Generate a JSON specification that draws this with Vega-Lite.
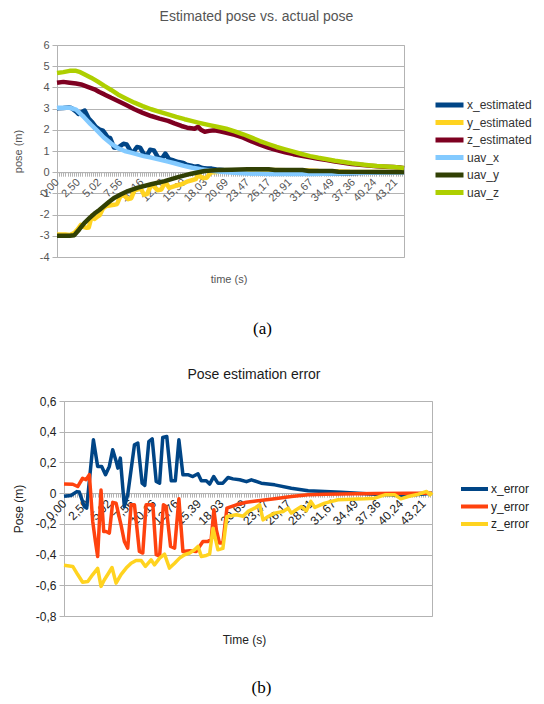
{
  "$schema": "https://vega.github.io/schema/vega-lite/v6.json",
  "padding": {"left": 11, "top": 9, "right": 5, "bottom": 5},
  "config": {
    "font": "Liberation Sans",
    "view": {"stroke": "#b3b3b3", "strokeWidth": 1}
  },
  "spacing": 30,
  "resolve": {"scale": {"color": "independent"}, "legend": {"color": "independent"}},
  "datasets": {
    "a": [
      {"s":"x_estimated","n":0,"v":3.02},{"s":"x_estimated","n":3,"v":3.03},{"s":"x_estimated","n":5.7,"v":3.05},{"s":"x_estimated","n":6.8,"v":3.03},{"s":"x_estimated","n":9.1,"v":2.85},{"s":"x_estimated","n":10.1,"v":2.75},{"s":"x_estimated","n":13.1,"v":2.91},{"s":"x_estimated","n":15,"v":2.53},{"s":"x_estimated","n":16.8,"v":2.34},{"s":"x_estimated","n":18.5,"v":2.12},{"s":"x_estimated","n":20.2,"v":2.01},{"s":"x_estimated","n":21.7,"v":1.96},{"s":"x_estimated","n":23.2,"v":1.76},{"s":"x_estimated","n":24,"v":1.64},{"s":"x_estimated","n":25.1,"v":1.62},{"s":"x_estimated","n":26.9,"v":1.17},{"s":"x_estimated","n":28.4,"v":1.15},{"s":"x_estimated","n":29.9,"v":1.23},{"s":"x_estimated","n":31.4,"v":1.34},{"s":"x_estimated","n":32.9,"v":1.31},{"s":"x_estimated","n":34.8,"v":0.99},{"s":"x_estimated","n":36,"v":0.94},{"s":"x_estimated","n":37.8,"v":1.19},{"s":"x_estimated","n":39.3,"v":1.16},{"s":"x_estimated","n":41.1,"v":0.84},{"s":"x_estimated","n":42.6,"v":0.8},{"s":"x_estimated","n":44,"v":1.06},{"s":"x_estimated","n":45.8,"v":1.03},{"s":"x_estimated","n":47.8,"v":0.69},{"s":"x_estimated","n":49.6,"v":0.65},{"s":"x_estimated","n":51.2,"v":0.88},{"s":"x_estimated","n":53,"v":0.61},{"s":"x_estimated","n":55.2,"v":0.55},{"s":"x_estimated","n":57.4,"v":0.48},{"s":"x_estimated","n":59.7,"v":0.44},{"s":"x_estimated","n":61.2,"v":0.35},{"s":"x_estimated","n":63.4,"v":0.31},{"s":"x_estimated","n":64.9,"v":0.26},{"s":"x_estimated","n":66.7,"v":0.28},{"s":"x_estimated","n":68.6,"v":0.2},{"s":"x_estimated","n":70.8,"v":0.17},{"s":"x_estimated","n":73.1,"v":0.17},{"s":"x_estimated","n":75.3,"v":0.13},{"s":"x_estimated","n":78.3,"v":0.1},{"s":"x_estimated","n":81.3,"v":0.06},{"s":"x_estimated","n":83.5,"v":0.06},{"s":"x_estimated","n":87.9,"v":0.015},{"s":"x_estimated","n":93.9,"v":-0.016},{"s":"x_estimated","n":101.3,"v":-0.05},{"s":"x_estimated","n":108.8,"v":-0.065},{"s":"x_estimated","n":116.2,"v":-0.07},{"s":"x_estimated","n":123.6,"v":-0.07},{"s":"x_estimated","n":131.1,"v":-0.06},{"s":"x_estimated","n":138.5,"v":-0.05},{"s":"x_estimated","n":145.9,"v":-0.03},{"s":"x_estimated","n":150.4,"v":-0.03},{"s":"x_estimated","n":156.4,"v":-0.016},{"s":"x_estimated","n":164,"v":0},
      {"s":"y_estimated","n":0,"v":-2.94},{"s":"y_estimated","n":3.9,"v":-2.94},{"s":"y_estimated","n":6.1,"v":-2.96},{"s":"y_estimated","n":8.3,"v":-2.86},{"s":"y_estimated","n":9.8,"v":-2.69},{"s":"y_estimated","n":11.3,"v":-2.48},{"s":"y_estimated","n":12.8,"v":-2.59},{"s":"y_estimated","n":14,"v":-2.62},{"s":"y_estimated","n":15,"v":-2.61},{"s":"y_estimated","n":16.5,"v":-2.04},{"s":"y_estimated","n":17.7,"v":-2.2},{"s":"y_estimated","n":18.75,"v":-2.12},{"s":"y_estimated","n":20.2,"v":-2.02},{"s":"y_estimated","n":21.7,"v":-1.71},{"s":"y_estimated","n":23.2,"v":-1.6},{"s":"y_estimated","n":25.4,"v":-1.56},{"s":"y_estimated","n":26.9,"v":-1.54},{"s":"y_estimated","n":28.4,"v":-1.5},{"s":"y_estimated","n":29.9,"v":-1.14},{"s":"y_estimated","n":31.4,"v":-1.07},{"s":"y_estimated","n":33.6,"v":-1.27},{"s":"y_estimated","n":35.1,"v":-1.23},{"s":"y_estimated","n":36.6,"v":-0.86},{"s":"y_estimated","n":39.6,"v":-0.77},{"s":"y_estimated","n":41.1,"v":-1.06},{"s":"y_estimated","n":42.6,"v":-1.03},{"s":"y_estimated","n":44.3,"v":-0.65},{"s":"y_estimated","n":45.5,"v":-0.64},{"s":"y_estimated","n":47.5,"v":-0.85},{"s":"y_estimated","n":49.3,"v":-0.82},{"s":"y_estimated","n":51.2,"v":-0.45},{"s":"y_estimated","n":53,"v":-0.74},{"s":"y_estimated","n":56,"v":-0.64},{"s":"y_estimated","n":58.9,"v":-0.57},{"s":"y_estimated","n":61.9,"v":-0.43},{"s":"y_estimated","n":64.1,"v":-0.37},{"s":"y_estimated","n":65.6,"v":-0.33},{"s":"y_estimated","n":66.8,"v":-0.11},{"s":"y_estimated","n":67.9,"v":-0.22},{"s":"y_estimated","n":69.3,"v":-0.28},{"s":"y_estimated","n":70.8,"v":-0.26},{"s":"y_estimated","n":72.6,"v":-0.02},{"s":"y_estimated","n":76.8,"v":0.02},{"s":"y_estimated","n":81.3,"v":0.07},{"s":"y_estimated","n":86.5,"v":0.08},{"s":"y_estimated","n":93.9,"v":0.1},{"s":"y_estimated","n":101.3,"v":0.1},{"s":"y_estimated","n":108.8,"v":0.09},{"s":"y_estimated","n":116.2,"v":0.09},{"s":"y_estimated","n":123.6,"v":0.055},{"s":"y_estimated","n":138.5,"v":0.018},{"s":"y_estimated","n":153.4,"v":0.015},{"s":"y_estimated","n":164,"v":0.01},
      {"s":"z_estimated","n":0,"v":4.22},{"s":"z_estimated","n":3,"v":4.26},{"s":"z_estimated","n":6,"v":4.22},{"s":"z_estimated","n":9,"v":4.18},{"s":"z_estimated","n":11.4,"v":4.14},{"s":"z_estimated","n":14.5,"v":4.03},{"s":"z_estimated","n":17.7,"v":3.91},{"s":"z_estimated","n":20,"v":3.78},{"s":"z_estimated","n":22.4,"v":3.67},{"s":"z_estimated","n":25.6,"v":3.51},{"s":"z_estimated","n":28.8,"v":3.36},{"s":"z_estimated","n":32.7,"v":3.17},{"s":"z_estimated","n":36.6,"v":2.97},{"s":"z_estimated","n":40.5,"v":2.8},{"s":"z_estimated","n":44.5,"v":2.65},{"s":"z_estimated","n":48.5,"v":2.53},{"s":"z_estimated","n":52.5,"v":2.42},{"s":"z_estimated","n":55.5,"v":2.3},{"s":"z_estimated","n":58.8,"v":2.18},{"s":"z_estimated","n":61.5,"v":2.1},{"s":"z_estimated","n":63.5,"v":2.07},{"s":"z_estimated","n":65,"v":2.05},{"s":"z_estimated","n":66.7,"v":2.14},{"s":"z_estimated","n":68,"v":2.0},{"s":"z_estimated","n":69.8,"v":1.91},{"s":"z_estimated","n":72,"v":1.95},{"s":"z_estimated","n":74.5,"v":1.98},{"s":"z_estimated","n":77,"v":1.93},{"s":"z_estimated","n":80.1,"v":1.86},{"s":"z_estimated","n":84,"v":1.76},{"s":"z_estimated","n":88,"v":1.63},{"s":"z_estimated","n":92,"v":1.45},{"s":"z_estimated","n":95.9,"v":1.3},{"s":"z_estimated","n":99.8,"v":1.16},{"s":"z_estimated","n":103.8,"v":1.04},{"s":"z_estimated","n":107.8,"v":0.94},{"s":"z_estimated","n":111.7,"v":0.85},{"s":"z_estimated","n":115.6,"v":0.77},{"s":"z_estimated","n":119.6,"v":0.7},{"s":"z_estimated","n":123.5,"v":0.63},{"s":"z_estimated","n":127.5,"v":0.57},{"s":"z_estimated","n":131.4,"v":0.5},{"s":"z_estimated","n":135.4,"v":0.45},{"s":"z_estimated","n":139.3,"v":0.39},{"s":"z_estimated","n":143.3,"v":0.35},{"s":"z_estimated","n":147.2,"v":0.31},{"s":"z_estimated","n":151.2,"v":0.28},{"s":"z_estimated","n":155,"v":0.26},{"s":"z_estimated","n":159,"v":0.24},{"s":"z_estimated","n":162,"v":0.22},{"s":"z_estimated","n":164,"v":0.19},
      {"s":"uav_x","n":0,"v":3.04},{"s":"uav_x","n":3,"v":3.04},{"s":"uav_x","n":6,"v":3.04},{"s":"uav_x","n":9,"v":2.95},{"s":"uav_x","n":13,"v":2.57},{"s":"uav_x","n":16,"v":2.25},{"s":"uav_x","n":19,"v":1.96},{"s":"uav_x","n":22,"v":1.65},{"s":"uav_x","n":25.6,"v":1.35},{"s":"uav_x","n":29,"v":1.12},{"s":"uav_x","n":32,"v":1.0},{"s":"uav_x","n":35,"v":0.92},{"s":"uav_x","n":38,"v":0.84},{"s":"uav_x","n":41,"v":0.76},{"s":"uav_x","n":44.5,"v":0.69},{"s":"uav_x","n":48.5,"v":0.6},{"s":"uav_x","n":52.5,"v":0.5},{"s":"uav_x","n":56,"v":0.41},{"s":"uav_x","n":60,"v":0.3},{"s":"uav_x","n":64,"v":0.21},{"s":"uav_x","n":68,"v":0.14},{"s":"uav_x","n":72,"v":0.08},{"s":"uav_x","n":76,"v":0.03},{"s":"uav_x","n":82,"v":-0.02},{"s":"uav_x","n":90,"v":-0.06},{"s":"uav_x","n":100,"v":-0.08},{"s":"uav_x","n":110,"v":-0.08},{"s":"uav_x","n":120,"v":-0.08},{"s":"uav_x","n":132,"v":-0.06},{"s":"uav_x","n":142,"v":-0.03},{"s":"uav_x","n":152,"v":-0.01},{"s":"uav_x","n":164,"v":0.0},
      {"s":"uav_y","n":0,"v":-3.0},{"s":"uav_y","n":6,"v":-3.0},{"s":"uav_y","n":8.2,"v":-2.97},{"s":"uav_y","n":10.5,"v":-2.7},{"s":"uav_y","n":12.9,"v":-2.4},{"s":"uav_y","n":15.3,"v":-2.17},{"s":"uav_y","n":17.7,"v":-1.95},{"s":"uav_y","n":20,"v":-1.78},{"s":"uav_y","n":22.4,"v":-1.58},{"s":"uav_y","n":24.8,"v":-1.38},{"s":"uav_y","n":27.2,"v":-1.2},{"s":"uav_y","n":30.3,"v":-1.04},{"s":"uav_y","n":33.5,"v":-0.89},{"s":"uav_y","n":38.2,"v":-0.73},{"s":"uav_y","n":44.5,"v":-0.57},{"s":"uav_y","n":50.9,"v":-0.42},{"s":"uav_y","n":57.2,"v":-0.23},{"s":"uav_y","n":63.5,"v":-0.07},{"s":"uav_y","n":69.8,"v":0.06},{"s":"uav_y","n":76.2,"v":0.1},{"s":"uav_y","n":82.5,"v":0.12},{"s":"uav_y","n":90,"v":0.14},{"s":"uav_y","n":100,"v":0.14},{"s":"uav_y","n":103,"v":0.1},{"s":"uav_y","n":116,"v":0.1},{"s":"uav_y","n":119,"v":0.06},{"s":"uav_y","n":130,"v":0.06},{"s":"uav_y","n":133,"v":0.02},{"s":"uav_y","n":164,"v":0.01},
      {"s":"uav_z","n":0,"v":4.68},{"s":"uav_z","n":3,"v":4.72},{"s":"uav_z","n":6,"v":4.78},{"s":"uav_z","n":9,"v":4.78},{"s":"uav_z","n":11,"v":4.72},{"s":"uav_z","n":12.9,"v":4.62},{"s":"uav_z","n":16.1,"v":4.46},{"s":"uav_z","n":19.3,"v":4.27},{"s":"uav_z","n":22.4,"v":4.07},{"s":"uav_z","n":25.6,"v":3.88},{"s":"uav_z","n":28.8,"v":3.67},{"s":"uav_z","n":32.7,"v":3.47},{"s":"uav_z","n":36.6,"v":3.28},{"s":"uav_z","n":40.5,"v":3.12},{"s":"uav_z","n":44.5,"v":2.97},{"s":"uav_z","n":48.5,"v":2.85},{"s":"uav_z","n":52.5,"v":2.73},{"s":"uav_z","n":56.4,"v":2.61},{"s":"uav_z","n":60.3,"v":2.5},{"s":"uav_z","n":63.5,"v":2.42},{"s":"uav_z","n":66.7,"v":2.34},{"s":"uav_z","n":71.5,"v":2.23},{"s":"uav_z","n":76.2,"v":2.13},{"s":"uav_z","n":80,"v":2.05},{"s":"uav_z","n":84,"v":1.93},{"s":"uav_z","n":88,"v":1.79},{"s":"uav_z","n":92,"v":1.63},{"s":"uav_z","n":95.9,"v":1.47},{"s":"uav_z","n":99.8,"v":1.33},{"s":"uav_z","n":103.8,"v":1.19},{"s":"uav_z","n":107.8,"v":1.08},{"s":"uav_z","n":111.7,"v":0.97},{"s":"uav_z","n":115.6,"v":0.86},{"s":"uav_z","n":119.6,"v":0.76},{"s":"uav_z","n":123.5,"v":0.68},{"s":"uav_z","n":127.5,"v":0.61},{"s":"uav_z","n":131.4,"v":0.54},{"s":"uav_z","n":135.4,"v":0.48},{"s":"uav_z","n":139.3,"v":0.42},{"s":"uav_z","n":143.3,"v":0.37},{"s":"uav_z","n":147.2,"v":0.33},{"s":"uav_z","n":151.2,"v":0.29},{"s":"uav_z","n":155.1,"v":0.27},{"s":"uav_z","n":159.1,"v":0.25},{"s":"uav_z","n":164,"v":0.2}
    ],
    "b": [
      {"s":"x_error","n":0,"v":-0.02},{"s":"x_error","n":3.1,"v":-0.015},{"s":"x_error","n":5.7,"v":0.01},{"s":"x_error","n":6.8,"v":0.007},{"s":"x_error","n":9.1,"v":-0.087},{"s":"x_error","n":10.1,"v":-0.098},{"s":"x_error","n":13.1,"v":0.347},{"s":"x_error","n":15,"v":0.174},{"s":"x_error","n":16.8,"v":0.174},{"s":"x_error","n":18.5,"v":0.12},{"s":"x_error","n":20.2,"v":0.174},{"s":"x_error","n":21.7,"v":0.282},{"s":"x_error","n":23.2,"v":0.21},{"s":"x_error","n":24,"v":0.163},{"s":"x_error","n":25.1,"v":0.228},{"s":"x_error","n":26.9,"v":-0.087},{"s":"x_error","n":28.4,"v":-0.01},{"s":"x_error","n":29.9,"v":0.152},{"s":"x_error","n":31.4,"v":0.315},{"s":"x_error","n":32.9,"v":0.326},{"s":"x_error","n":34.8,"v":0.065},{"s":"x_error","n":36,"v":0.05},{"s":"x_error","n":37.8,"v":0.336},{"s":"x_error","n":39.3,"v":0.354},{"s":"x_error","n":41.1,"v":0.076},{"s":"x_error","n":42.6,"v":0.065},{"s":"x_error","n":44,"v":0.362},{"s":"x_error","n":45.8,"v":0.369},{"s":"x_error","n":47.8,"v":0.08},{"s":"x_error","n":49.6,"v":0.08},{"s":"x_error","n":51.2,"v":0.347},{"s":"x_error","n":53,"v":0.12},{"s":"x_error","n":55.2,"v":0.12},{"s":"x_error","n":57.4,"v":0.108},{"s":"x_error","n":59.7,"v":0.126},{"s":"x_error","n":61.2,"v":0.08},{"s":"x_error","n":63.4,"v":0.08},{"s":"x_error","n":64.9,"v":0.059},{"s":"x_error","n":66.7,"v":0.108},{"s":"x_error","n":68.6,"v":0.065},{"s":"x_error","n":70.8,"v":0.065},{"s":"x_error","n":73.1,"v":0.102},{"s":"x_error","n":75.3,"v":0.093},{"s":"x_error","n":78.3,"v":0.087},{"s":"x_error","n":81.3,"v":0.075},{"s":"x_error","n":83.5,"v":0.087},{"s":"x_error","n":87.9,"v":0.065},{"s":"x_error","n":93.9,"v":0.054},{"s":"x_error","n":101.3,"v":0.032},{"s":"x_error","n":108.8,"v":0.015},{"s":"x_error","n":116.2,"v":0.01},{"s":"x_error","n":123.6,"v":0.006},{"s":"x_error","n":131.1,"v":0},{"s":"x_error","n":138.5,"v":-0.007},{"s":"x_error","n":145.9,"v":-0.011},{"s":"x_error","n":150.4,"v":-0.02},{"s":"x_error","n":156.4,"v":-0.01},{"s":"x_error","n":164,"v":0},
      {"s":"y_error","n":0,"v":0.06},{"s":"y_error","n":3.9,"v":0.058},{"s":"y_error","n":6.1,"v":0.043},{"s":"y_error","n":8.3,"v":0.097},{"s":"y_error","n":9.8,"v":0.087},{"s":"y_error","n":11.3,"v":0.12},{"s":"y_error","n":12.8,"v":-0.184},{"s":"y_error","n":14,"v":-0.315},{"s":"y_error","n":15,"v":-0.412},{"s":"y_error","n":16.5,"v":0.02},{"s":"y_error","n":17.7,"v":-0.25},{"s":"y_error","n":18.75,"v":-0.25},{"s":"y_error","n":20.2,"v":-0.26},{"s":"y_error","n":21.7,"v":-0.06},{"s":"y_error","n":23.2,"v":-0.065},{"s":"y_error","n":25.4,"v":-0.206},{"s":"y_error","n":26.9,"v":-0.315},{"s":"y_error","n":28.4,"v":-0.358},{"s":"y_error","n":29.9,"v":-0.076},{"s":"y_error","n":31.4,"v":-0.076},{"s":"y_error","n":33.6,"v":-0.38},{"s":"y_error","n":35.1,"v":-0.39},{"s":"y_error","n":36.6,"v":-0.076},{"s":"y_error","n":39.6,"v":-0.076},{"s":"y_error","n":41.1,"v":-0.4},{"s":"y_error","n":42.6,"v":-0.41},{"s":"y_error","n":44.3,"v":-0.076},{"s":"y_error","n":45.5,"v":-0.087},{"s":"y_error","n":47.5,"v":-0.347},{"s":"y_error","n":49.3,"v":-0.358},{"s":"y_error","n":51.2,"v":-0.037},{"s":"y_error","n":53,"v":-0.38},{"s":"y_error","n":56,"v":-0.375},{"s":"y_error","n":58.9,"v":-0.38},{"s":"y_error","n":61.9,"v":-0.315},{"s":"y_error","n":64.1,"v":-0.315},{"s":"y_error","n":65.6,"v":-0.3},{"s":"y_error","n":66.8,"v":-0.108},{"s":"y_error","n":67.9,"v":-0.24},{"s":"y_error","n":69.3,"v":-0.325},{"s":"y_error","n":70.8,"v":-0.325},{"s":"y_error","n":72.6,"v":-0.098},{"s":"y_error","n":76.8,"v":-0.076},{"s":"y_error","n":81.3,"v":-0.059},{"s":"y_error","n":86.5,"v":-0.05},{"s":"y_error","n":93.9,"v":-0.037},{"s":"y_error","n":101.3,"v":-0.022},{"s":"y_error","n":108.8,"v":-0.011},{"s":"y_error","n":116.2,"v":-0.007},{"s":"y_error","n":123.6,"v":-0.005},{"s":"y_error","n":138.5,"v":-0.002},{"s":"y_error","n":153.4,"v":0},{"s":"y_error","n":164,"v":0},
      {"s":"z_error","n":0,"v":-0.47},{"s":"z_error","n":3.9,"v":-0.477},{"s":"z_error","n":6.1,"v":-0.53},{"s":"z_error","n":8.3,"v":-0.58},{"s":"z_error","n":10.6,"v":-0.575},{"s":"z_error","n":12.8,"v":-0.53},{"s":"z_error","n":15,"v":-0.49},{"s":"z_error","n":16.5,"v":-0.607},{"s":"z_error","n":18,"v":-0.564},{"s":"z_error","n":19.9,"v":-0.52},{"s":"z_error","n":21.4,"v":-0.484},{"s":"z_error","n":23.2,"v":-0.586},{"s":"z_error","n":25.4,"v":-0.53},{"s":"z_error","n":27.7,"v":-0.488},{"s":"z_error","n":29.9,"v":-0.456},{"s":"z_error","n":32.1,"v":-0.438},{"s":"z_error","n":34.4,"v":-0.438},{"s":"z_error","n":36.3,"v":-0.477},{"s":"z_error","n":38.8,"v":-0.434},{"s":"z_error","n":40.3,"v":-0.467},{"s":"z_error","n":42.6,"v":-0.423},{"s":"z_error","n":44.8,"v":-0.397},{"s":"z_error","n":47,"v":-0.488},{"s":"z_error","n":49.3,"v":-0.456},{"s":"z_error","n":51.5,"v":-0.423},{"s":"z_error","n":53.7,"v":-0.401},{"s":"z_error","n":56,"v":-0.39},{"s":"z_error","n":58.2,"v":-0.369},{"s":"z_error","n":59.7,"v":-0.347},{"s":"z_error","n":61.2,"v":-0.412},{"s":"z_error","n":63.4,"v":-0.406},{"s":"z_error","n":64.9,"v":-0.397},{"s":"z_error","n":66.4,"v":-0.228},{"s":"z_error","n":68.6,"v":-0.369},{"s":"z_error","n":70.8,"v":-0.36},{"s":"z_error","n":72.6,"v":-0.152},{"s":"z_error","n":76.8,"v":-0.141},{"s":"z_error","n":79.8,"v":-0.15},{"s":"z_error","n":82,"v":-0.119},{"s":"z_error","n":85,"v":-0.098},{"s":"z_error","n":87.2,"v":-0.076},{"s":"z_error","n":88.7,"v":-0.174},{"s":"z_error","n":91,"v":-0.152},{"s":"z_error","n":93.9,"v":-0.13},{"s":"z_error","n":97.6,"v":-0.119},{"s":"z_error","n":99.9,"v":-0.098},{"s":"z_error","n":101.3,"v":-0.13},{"s":"z_error","n":103.5,"v":-0.108},{"s":"z_error","n":105.8,"v":-0.087},{"s":"z_error","n":108,"v":-0.115},{"s":"z_error","n":110,"v":-0.054},{"s":"z_error","n":111.8,"v":-0.093},{"s":"z_error","n":116.2,"v":-0.065},{"s":"z_error","n":122.1,"v":-0.043},{"s":"z_error","n":128.1,"v":-0.039},{"s":"z_error","n":134,"v":-0.037},{"s":"z_error","n":138.5,"v":-0.033},{"s":"z_error","n":143,"v":-0.011},{"s":"z_error","n":147.5,"v":-0.011},{"s":"z_error","n":150.1,"v":-0.037},{"s":"z_error","n":153.4,"v":-0.022},{"s":"z_error","n":157.9,"v":-0.007},{"s":"z_error","n":161.6,"v":0.011},{"s":"z_error","n":163.1,"v":-0.011},{"s":"z_error","n":164,"v":0.005}
    ]
  },
  "vconcat": [
    {
      "title": {"text": "(a)", "orient": "bottom", "anchor": "start", "align": "center", "dx": 251, "font": "Liberation Serif", "fontSize": 17, "fontWeight": "normal", "color": "#000000", "offset": 36},
      "resolve": {"scale": {"color": "independent"}},
      "vconcat": [
        {
          "width": 347,
          "height": 212,
          "data": {"name": "a"},
          "title": {"text": "Estimated pose vs. actual pose", "fontSize": 14, "fontWeight": "normal", "color": "#555555", "anchor": "middle", "frame": "group", "dx": 26, "offset": 15},
          "mark": {"type": "line", "strokeWidth": 4.5, "strokeJoin": "round"},
          "encoding": {
            "x": {
              "field": "n", "type": "quantitative",
              "scale": {"domain": [0, 164], "nice": false, "zero": false},
              "axis": {
                "title": "time (s)", "offset": -84.8, "tickCount": 164,
                "labelExpr": "datum.value % 10 === 0 ? ['0,00','2,50','5,02','7,56','10,16','12,76','15,39','18,03','20,69','23,47','26,17','28,91','31,67','34,49','37,36','40,24','43,21'][datum.value / 10] : ''",
                "labelAngle": -45, "labelAlign": "right", "labelBaseline": "middle", "labelPadding": 4,
                "labelFontSize": 11, "labelColor": "#555555", "labelOverlap": false, "labelFlush": false, "labelBound": false,
                "tickSize": 4, "tickColor": "#b3b3b3", "domainColor": "#b3b3b3", "grid": false,
                "titleFontSize": 11, "titleFontWeight": "normal", "titleColor": "#555555",
                "titleX": 171.5, "titleY": 110, "titleBaseline": "alphabetic", "titleAlign": "center"
              }
            },
            "y": {
              "field": "v", "type": "quantitative",
              "scale": {"domain": [-4, 6], "nice": false},
              "axis": {
                "title": "pose (m)", "values": [-4, -3, -2, -1, 0, 1, 2, 3, 4, 5, 6],
                "labelExpr": "datum.value < 0 ? '-' + abs(datum.value) : '' + datum.value",
                "grid": true, "gridColor": "#b3b3b3", "domain": false, "tickSize": 5, "tickColor": "#b3b3b3",
                "labelPadding": 3, "labelFontSize": 11, "labelColor": "#555555",
                "titleFontSize": 11, "titleFontWeight": "normal", "titleColor": "#555555",
                "titleX": -39, "titleBaseline": "middle"
              }
            },
            "color": {
              "field": "s", "type": "nominal",
              "scale": {"domain": ["x_estimated", "y_estimated", "z_estimated", "uav_x", "uav_y", "uav_z"], "range": ["#004586", "#ffd320", "#7e0021", "#83caff", "#314004", "#aecf00"]},
              "legend": {"title": null, "orient": "none", "legendX": 376, "legendY": 53, "padding": 0, "symbolType": "stroke", "symbolSize": 784, "symbolStrokeWidth": 5, "labelFontSize": 12, "labelColor": "#333333", "labelOffset": 1, "clipHeight": 14, "rowPadding": 3.5}
            }
          }
        }
      ]
    },
    {
      "title": {"text": "(b)", "orient": "bottom", "anchor": "start", "align": "center", "dx": 250, "font": "Liberation Serif", "fontSize": 17, "fontWeight": "normal", "color": "#000000", "offset": 34},
      "resolve": {"scale": {"color": "independent"}},
      "spacing": -50,
      "hconcat": [
        {
          "width": 1,
          "height": 1,
          "data": {"values": [{}]},
          "view": {"stroke": null},
          "mark": {"type": "point", "opacity": 0},
          "encoding": {}
        },
        {
          "width": 368,
          "height": 215,
          "data": {"name": "b"},
          "title": {"text": "Pose estimation error", "fontSize": 14, "fontWeight": "normal", "color": "#1a1a1a", "anchor": "middle", "frame": "group", "dx": 6, "offset": 13.5},
          "mark": {"type": "line", "strokeWidth": 3.5, "strokeJoin": "round"},
          "encoding": {
            "x": {
              "field": "n", "type": "quantitative",
              "scale": {"domain": [0, 164], "nice": false, "zero": false},
              "axis": {
                "title": "Time (s)", "offset": -122.86, "tickCount": 164,
                "labelExpr": "datum.value % 10 === 0 ? ['0,00','2,50','5,02','7,56','10,16','12,76','15,39','18,03','20,69','23,47','26,17','28,91','31,67','34,49','37,36','40,24','43,21'][datum.value / 10] : ''",
                "labelAngle": -45, "labelAlign": "right", "labelBaseline": "middle", "labelPadding": 4,
                "labelFontSize": 12, "labelColor": "#222222", "labelOverlap": false, "labelFlush": false, "labelBound": false,
                "tickSize": 4, "tickColor": "#b3b3b3", "domainColor": "#b3b3b3", "grid": false,
                "titleFontSize": 12, "titleFontWeight": "normal", "titleColor": "#222222",
                "titleX": 180, "titleY": 150, "titleBaseline": "alphabetic", "titleAlign": "center"
              }
            },
            "y": {
              "field": "v", "type": "quantitative",
              "scale": {"domain": [-0.8, 0.6], "nice": false},
              "axis": {
                "title": "Pose (m)", "values": [-0.8, -0.6, -0.4, -0.2, 0, 0.2, 0.4, 0.6],
                "labelExpr": "datum.value === 0 ? '0' : (datum.value < 0 ? '-' : '') + replace(format(abs(datum.value), '.1f'), '.', ',')",
                "grid": true, "gridColor": "#b3b3b3", "domain": false, "tickSize": 5, "tickColor": "#b3b3b3",
                "labelPadding": 3, "labelFontSize": 12, "labelColor": "#222222",
                "titleFontSize": 12, "titleFontWeight": "normal", "titleColor": "#222222",
                "titleX": -46, "titleBaseline": "middle"
              }
            },
            "color": {
              "field": "s", "type": "nominal",
              "scale": {"domain": ["x_error", "y_error", "z_error"], "range": ["#004586", "#ff420e", "#ffd320"]},
              "legend": {"title": null, "orient": "none", "legendX": 395, "legendY": 81, "padding": 0, "symbolType": "stroke", "symbolSize": 729, "symbolStrokeWidth": 4, "labelFontSize": 12, "labelColor": "#222222", "labelOffset": 1, "clipHeight": 14, "rowPadding": 3.5}
            }
          }
        }
      ]
    }
  ]
}
